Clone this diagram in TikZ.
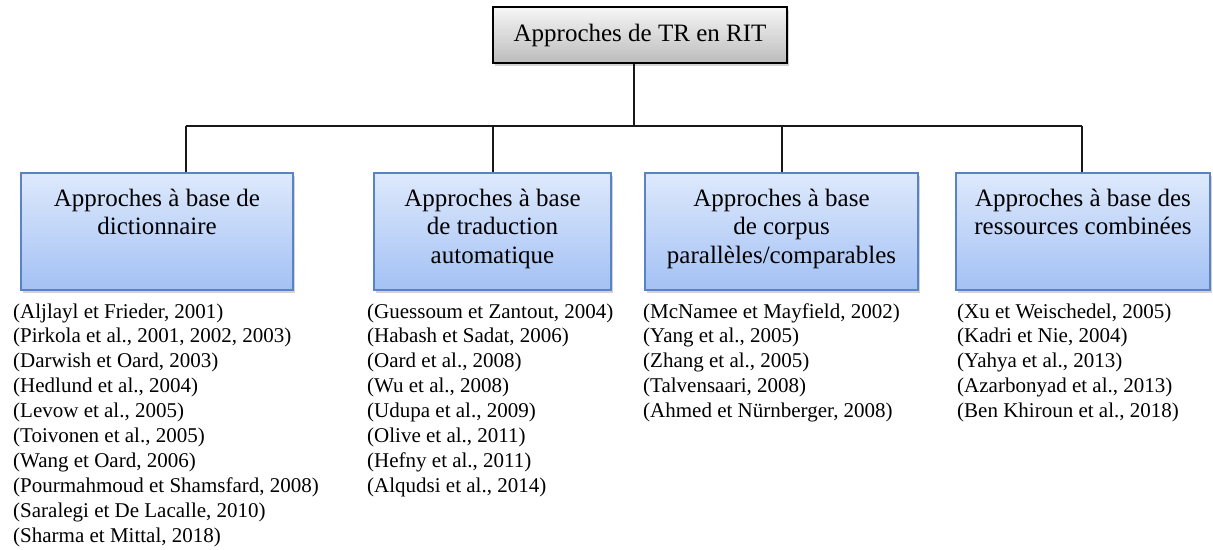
\documentclass[tikz,border=0pt]{standalone}
\usepackage{fontspec}
\setmainfont{Liberation Serif}
\usetikzlibrary{shadows}
\definecolor{boxtop}{RGB}{222,233,252}
\definecolor{boxbot}{RGB}{163,193,244}
\definecolor{boxline}{RGB}{88,132,198}
\definecolor{gtop}{RGB}{246,246,246}
\definecolor{gbot}{RGB}{188,188,188}
\definecolor{conncol}{RGB}{25,25,25}
\begin{document}
\begin{tikzpicture}[x=1pt,y=-1pt,
  catbox/.style={draw=boxline, line width=1.2pt, top color=boxtop, bottom color=boxbot,
    minimum width=#1, minimum height=117pt, inner sep=0pt,
    drop shadow={opacity=0.35, shadow xshift=2pt, shadow yshift=-2.5pt}},
  rootbox/.style={draw=black, line width=1.3pt, top color=gtop, bottom color=gbot,
    minimum width=294pt, minimum height=56pt, inner sep=0pt,
    font=\fontsize{25}{28.5}\selectfont,
    drop shadow={opacity=0.35, shadow xshift=2pt, shadow yshift=-2.5pt}},
  cattext/.style={anchor=base, align=center, inner sep=0pt, font=\fontsize{25}{28.5}\selectfont},
  reflist/.style={anchor=base west, align=left, inner sep=0pt, font=\fontsize{21}{24.9}\selectfont},
  conn/.style={draw=conncol, line width=1.4pt}]
\useasboundingbox (0,0) rectangle (1213,549);

\node[rootbox] (root) at (640,35) {Approches de TR en RIT};

\node[catbox=272pt] (b1) at (157,231.5) {};
\node[catbox=237pt] (b2) at (492.5,231.5) {};
\node[catbox=273pt] (b3) at (781.5,231.5) {};
\node[catbox=254pt] (b4) at (1083,231.5) {};

% base anchor of a multi-line node = baseline of its last line
\node[cattext] (t1) at (157,234.5) {Approches à base de\\dictionnaire};
\node[cattext] (t2) at (492.5,263) {Approches à base\\de traduction\\automatique};
\node[cattext] (t3) at (781.5,263) {Approches à base\\de corpus\\parallèles/comparables};
\node[cattext] (t4) at (1083,234.5) {Approches à base des\\ressources combinées};

\coordinate (j0) at (634,126);
\coordinate (j1) at (186,126);
\coordinate (j2) at (493,126);
\coordinate (j3) at (782,126);
\coordinate (j4) at (1082,126);

\draw[conn] (root.south -| j0) -- (j0);
\draw[conn] (j1) -- (j4);
\draw[conn] (j1) -- (j1 |- b1.north);
\draw[conn] (j2) -- (j2 |- b2.north);
\draw[conn] (j3) -- (j3 |- b3.north);
\draw[conn] (j4) -- (j4 |- b4.north);

\node[reflist] (l1) at (13,542.1) {(Aljlayl et Frieder, 2001)\\(Pirkola et al., 2001, 2002, 2003)\\(Darwish et Oard, 2003)\\(Hedlund et al., 2004)\\(Levow et al., 2005)\\(Toivonen et al., 2005)\\(Wang et Oard, 2006)\\(Pourmahmoud et Shamsfard, 2008)\\(Saralegi et De Lacalle, 2010)\\(Sharma et Mittal, 2018)};
\node[reflist] (l2) at (367,492.3) {(Guessoum et Zantout, 2004)\\(Habash et Sadat, 2006)\\(Oard et al., 2008)\\(Wu et al., 2008)\\(Udupa et al., 2009)\\(Olive et al., 2011)\\(Hefny et al., 2011)\\(Alqudsi et al., 2014)};
\node[reflist] (l3) at (643,417.6) {(McNamee et Mayfield, 2002)\\(Yang et al., 2005)\\(Zhang et al., 2005)\\(Talvensaari, 2008)\\(Ahmed et Nürnberger, 2008)};
\node[reflist] (l4) at (957,417.6) {(Xu et Weischedel, 2005)\\(Kadri et Nie, 2004)\\(Yahya et al., 2013)\\(Azarbonyad et al., 2013)\\(Ben Khiroun et al., 2018)};
\end{tikzpicture}
\end{document}
